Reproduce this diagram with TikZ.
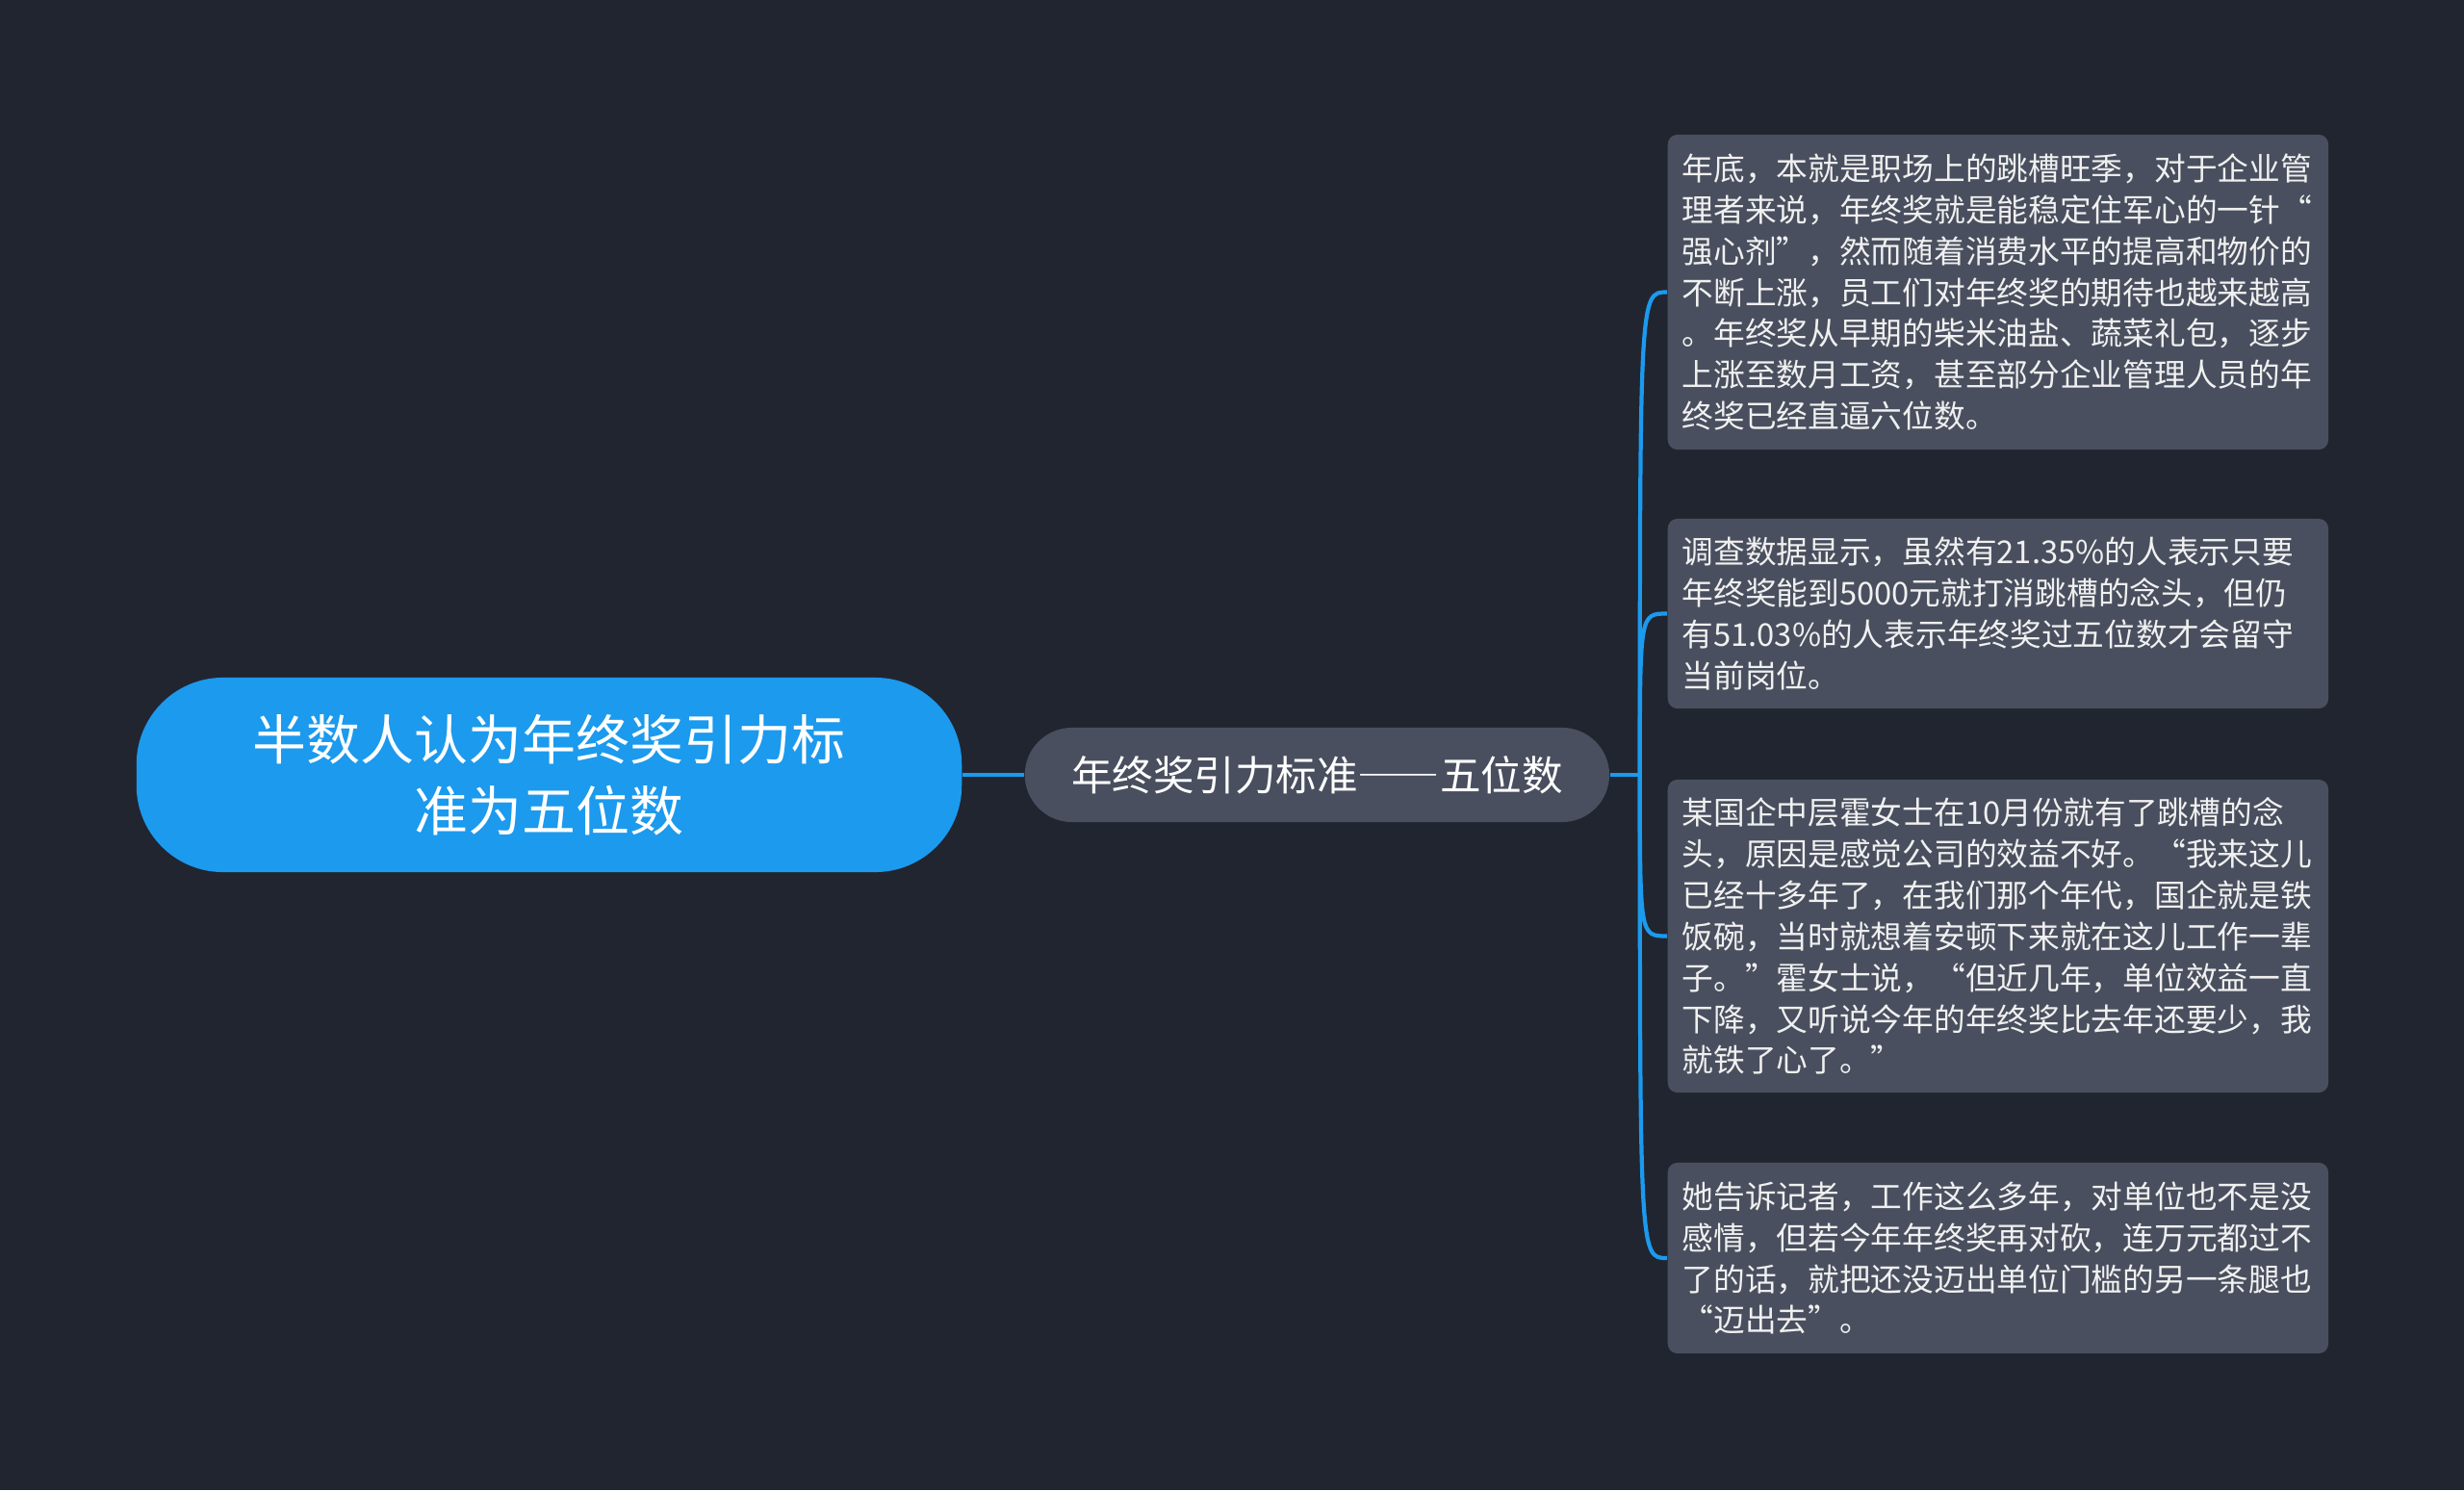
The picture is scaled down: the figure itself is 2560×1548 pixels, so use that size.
\documentclass[tikz,border=0pt]{standalone}
\usepackage{fontspec}
\setmainfont{Noto Sans CJK SC}
\usetikzlibrary{positioning,calc}
\definecolor{bgdark}{RGB}{33,37,48}
\definecolor{boxgray}{RGB}{73,79,94}
\definecolor{linkblue}{RGB}{27,154,238}
\tikzset{
  rootnode/.style={fill=linkblue,rounded corners=0.9cm,minimum width=8.57cm,minimum height=2.02cm,
    align=center,text=white,font=\fontsize{15.9pt}{20.9pt}\selectfont},
  topicnode/.style={fill=boxgray,rounded corners=0.49cm,minimum width=6.07cm,minimum height=0.98cm,
    text=white,font=\fontsize{12.1pt}{14pt}\selectfont},
  leafnode/.style={fill=boxgray,rounded corners=0.1cm,anchor=west,text width=6.56cm,inner xsep=0.15cm,
    align=left,text=white!94!black,font=\fontsize{9.3pt}{12.2pt}\selectfont},  % detail boxes
  link/.style={draw=linkblue,line width=1.2pt},
}

\begin{document}
\begin{tikzpicture}[x=0.01cm,y=-0.01cm]
  \useasboundingbox (0,0) rectangle (2560,1548);
  \fill[bgdark] (0,0) rectangle (2560,1548);

  \node[rootnode] (root) at (570.5,805) {半数人认为年终奖引力标\\准为五位数};
  \node[topicnode,right=0.64cm of root] (topic) {年终奖引力标准{\addfontfeatures{RawFeature=+fwid}——}五位数};
  \coordinate[right=0.31cm of topic] (jn);

  \node[leafnode,minimum height=3.27cm] (l1) at (1732,303.5) {年底，本就是职场上的跳槽旺季，对于企业管\\理者来说，年终奖就是能稳定住军心的一针“\\强心剂”，然而随着消费水平的提高和物价的\\不断上涨，员工们对年终奖的期待也越来越高\\。年终奖从早期的柴米油盐、蔬菜礼包，逐步\\上涨至数月工资，甚至部分企业管理人员的年\\终奖已经直逼六位数。};
  \node[leafnode,minimum height=1.97cm] (l2) at (1732,637.5) {调查数据显示，虽然有21.35\%的人表示只要\\年终奖能到5000元就打消跳槽的念头，但仍\\有51.03\%的人表示年终奖过五位数才会留守\\当前岗位。};
  \node[leafnode,minimum height=3.25cm] (l3) at (1732,972.5) {某国企中层霍女士在10月份就有了跳槽的念\\头，原因是感觉公司的效益不好。“我来这儿\\已经十多年了，在我们那个年代，国企就是铁\\饭碗，当时就想着安顿下来就在这儿工作一辈\\子。”霍女士说，“但近几年，单位效益一直\\下降，又听说今年的年终奖比去年还要少，我\\就铁了心了。”};
  \node[leafnode,minimum height=1.98cm] (l4) at (1732,1307) {她告诉记者，工作这么多年，对单位也不是没\\感情，但若今年年终奖再对砍，连万元都过不\\了的话，就把还没迈出单位门槛的另一条腿也\\“迈出去”。};

  \draw[link] (root) -- (topic);
  \draw[link] (topic.east) -- (jn);
  \foreach \lf in {l1,l2,l3,l4}
    \draw[link] (jn) .. controls (jn |- \lf.west) and (jn |- \lf.west) .. (\lf.west);
\end{tikzpicture}
\end{document}
